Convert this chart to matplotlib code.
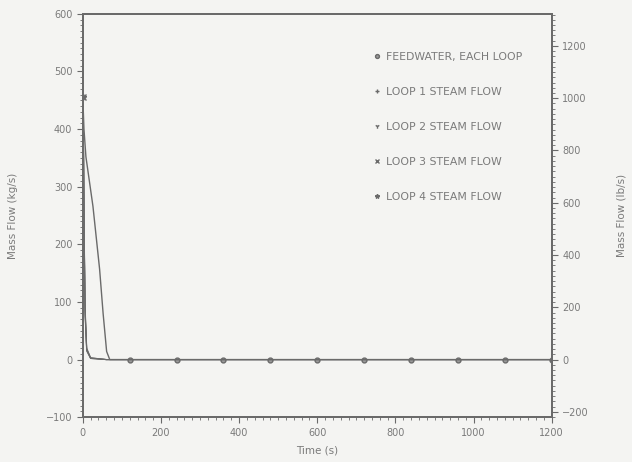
import matplotlib
matplotlib.use("Agg")
import matplotlib.pyplot as plt
import numpy as np
from matplotlib.ticker import MultipleLocator

# Data (kg/s vs s)
fw_time = [0, 3, 8, 26, 43, 52, 61, 69, 120, 240, 360, 480, 600, 720, 840, 960, 1080, 1200]
fw_flow = [455, 400, 352, 266, 157, 80, 14, 0, 0, 0, 0, 0, 0, 0, 0, 0, 0, 0]

steam_time = [0, 1, 2, 3, 4, 6, 10, 20, 60, 120, 240, 360, 480, 600, 720, 840, 960, 1080, 1200]
loop1_flow = [455, 420, 360, 280, 200, 90, 20, 3, 0, 0, 0, 0, 0, 0, 0, 0, 0, 0, 0]
loop2_flow = [455, 415, 355, 275, 195, 85, 18, 3, 0, 0, 0, 0, 0, 0, 0, 0, 0, 0, 0]
loop3_flow = [455, 410, 350, 270, 190, 80, 16, 2, 0, 0, 0, 0, 0, 0, 0, 0, 0, 0, 0]
loop4_flow = [455, 405, 345, 265, 185, 75, 15, 2, 0, 0, 0, 0, 0, 0, 0, 0, 0, 0, 0]

labels = ["FEEDWATER, EACH LOOP", "LOOP 1 STEAM FLOW", "LOOP 2 STEAM FLOW",
          "LOOP 3 STEAM FLOW", "LOOP 4 STEAM FLOW"]

x_ticks = [0, 200, 400, 600, 800, 1000, 1200]
y_ticks = [-100, 0, 100, 200, 300, 400, 500, 600]
y2_ticks = [-200, 0, 200, 400, 600, 800, 1000, 1200]
KG_TO_LB = 2.2046

line_c = "#6a6a6a"
text_c = "#7a7a7a"
bg = "#f4f4f2"

fig = plt.figure(figsize=(6.32, 4.62), dpi=100, facecolor=bg)
ax = fig.add_axes([0.131, 0.097, 0.742, 0.873], facecolor=bg)

ax.plot(fw_time, fw_flow, color=line_c, lw=1.0, marker="o", ms=3.5, mfc="#9a9a9a",
        mec=line_c, markevery=list(range(8, len(fw_time))), label=labels[0])
mk = ["+", "1", "x", "*"]
for arr, m, lab in zip([loop1_flow, loop2_flow, loop3_flow, loop4_flow], mk, labels[1:]):
    ax.plot(steam_time, arr, color=line_c, lw=0.8, marker=m, ms=4, markevery=[0],
            label=lab)

ax.set_xlim(0, 1200)
ax.set_ylim(-100, 600)
ax.set_xticks(x_ticks)
ax.set_yticks(y_ticks)
ax.xaxis.set_minor_locator(MultipleLocator(20))
ax.yaxis.set_minor_locator(MultipleLocator(10))
ax.tick_params(which="both", colors=line_c, labelcolor=text_c, labelsize=7, direction="out")
ax.tick_params(which="major", length=4)
ax.tick_params(which="minor", length=2)
for s in ax.spines.values():
    s.set_color(line_c)
    s.set_linewidth(1.4)

ax.set_xlabel("Time (s)", color=text_c, fontsize=7.5, labelpad=6)
ax.set_ylabel("Mass Flow (kg/s)", color=text_c, fontsize=7.5, labelpad=20)

ax2 = ax.twinx()
ax2.set_ylim(-100 * KG_TO_LB, 600 * KG_TO_LB)
ax2.set_yticks(y2_ticks)
ax2.yaxis.set_minor_locator(MultipleLocator(20))
ax2.tick_params(which="both", colors=line_c, labelcolor=text_c, labelsize=7, direction="out")
ax2.tick_params(which="major", length=4)
ax2.tick_params(which="minor", length=2)
for s in ax2.spines.values():
    s.set_color(line_c)
    s.set_linewidth(1.4)
ax2.set_ylabel("Mass Flow (lb/s)", color=text_c, fontsize=7.5, labelpad=20)

leg = ax.legend(loc="upper left", bbox_to_anchor=(0.6, 0.93), frameon=False,
                handlelength=0.5, handletextpad=0.6, labelspacing=2.3, fontsize=7.8,
                labelcolor=text_c, markerscale=0.8)
for h in leg.legend_handles:
    h.set_linestyle("none")

fig.savefig("out.png", dpi=100, facecolor=bg)
